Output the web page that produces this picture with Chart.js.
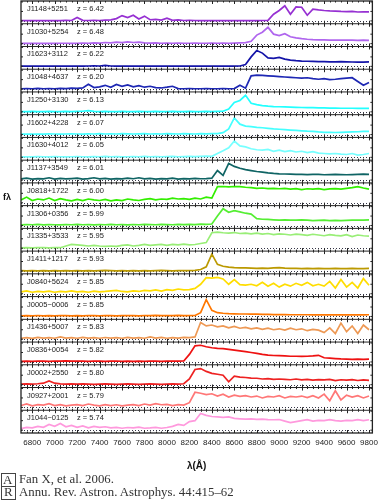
<!DOCTYPE html>
<html>
<head>
<meta charset="utf-8">
<script src="https://cdn.jsdelivr.net/npm/chart.js@4/dist/chart.umd.min.js"></script>
<style>
  body { margin: 0; background: #fff; }
  #wrap { position: relative; width: 383px; height: 500px; overflow: hidden; }
  #flab { position: absolute; left: 3px; top: 192px; font: bold 9px "Liberation Sans", Arial, sans-serif; color: #111; }
  #logo { position: absolute; left: 1px; top: 473px; width: 13px; height: 25px; border: 1px solid #444; font: 13px "Liberation Serif", serif; color: #333; }
  #logo .a { position: absolute; left: 1px; top: -2px; }
  #logo .r { position: absolute; left: 2px; top: 10px; }
  #logo .bar { position: absolute; left: 0; top: 12px; width: 13px; border-top: 1px solid #444; }
  #cite { position: absolute; left: 19px; top: 473px; font: 12.8px "Liberation Serif", serif; line-height: 13px; color: #333; }
</style>
</head>
<body>
<div id="wrap">
  <canvas id="spectra" width="383" height="500"></canvas>
  <div id="flab">fλ</div>
  <div id="logo"><span class="a">A</span><span class="bar"></span><span class="r">R</span></div>
  <div id="cite">Fan X, et al. 2006.<br>Annu. Rev. Astron. Astrophys. 44:415–62</div>
</div>
<script>
// quasar names and redshifts, top panel first
var names = ['J1148+5251','J1030+5254','J1623+3112','J1048+4637','J1250+3130','J1602+4228','J1630+4012',
  'J1137+3549','J0818+1722','J1306+0356','J1335+3533','J1411+1217','J0840+5624','J0005\u22120006',
  'J1436+5007','J0836+0054','J0002+2550','J0927+2001','J1044\u22120125'];
var redshifts = ['6.42','6.48','6.22','6.20','6.13','6.07','6.05','6.01','6.00','5.99','5.95','5.93','5.85','5.85','5.83','5.82','5.80','5.79','5.74'];
var colors = ['#9630d2','#b066ee','#1414a8','#1e28b4','#22ffff','#44ffff','#77ffff','#0f6464','#33ee00','#55ee33',
  '#99ee77','#bb9900','#ffdd00','#ff7700','#ee9955','#ee1111','#ee2222','#ff7777','#ff99dd'];

// wavelength grid (Angstrom), 6700..9800 every 50
var lambda = [6700,6750,6800,6850,6900,6950,7000,7050,7100,7150,7200,7250,7300,7350,7400,7450,7500,7550,7600,7650,
  7700,7750,7800,7850,7900,7950,8000,8050,8100,8150,8200,8250,8300,8350,8400,8450,8500,8550,8600,8650,
  8700,8750,8800,8850,8900,8950,9000,9050,9100,9150,9200,9250,9300,9350,9400,9450,9500,9550,9600,9650,
  9700,9750,9800];
var xTicks = [6800,7000,7200,7400,7600,7800,8000,8200,8400,8600,8800,9000,9200,9400,9600,9800];

// normalised flux per quasar
var fJ1148 = [0.02,0.01,0.02,0.01,0.02,0.01,0.02,0.01,0.03,0.02, 0.18,0.03,0.02,0.03,0.02,0.04,0.05,0.12,0.28,0.18,
  0.30,0.10,0.25,0.06,0.08,0.04,0.14,0.03,0.05,0.02, 0.03,0.02,0.01,0.02,0.01,0.02,0.01,0.02,0.01,0.02,
  0.01,0.02,0.01,0.02,0.03,0.35,0.55,0.80,0.35,0.74, 0.72,0.30,0.62,0.58,0.55,0.53,0.52,0.50,0.49,0.50, 0.47,0.48,0.48];
var fJ1030 = [0.01,0.02,0.01,0.02,0.01,0.02,0.01,0.02,0.02,0.01, 0.02,0.03,0.02,0.04,0.03,0.06,0.04,0.08,0.05,0.09,
  0.06,0.08,0.04,0.03,0.04,0.02,0.03,0.02,0.03,0.02, 0.02,0.03,0.02,0.02,0.03,0.02,0.03,0.02,0.03,0.04,
  0.05,0.12,0.45,0.60,0.86,0.50,0.42,0.52,0.36,0.30, 0.26,0.23,0.21,0.20,0.20,0.19,0.19,0.18,0.18,0.18, 0.17,0.18,0.17];
var fJ1623 = [0.01,0.01,0.02,0.01,0.01,0.02,0.01,0.02,0.01,0.01, 0.02,0.01,0.02,0.03,0.02,0.05,0.02,0.01,0.02,0.01,
  0.01,0.02,0.01,0.01,0.02,0.01,0.01,0.02,0.01,0.01, 0.01,0.02,0.01,0.01,0.02,0.01,0.01,0.02,0.01,0.02,
  0.10,0.50,0.84,0.70,0.45,0.42,0.47,0.38,0.33,0.30, 0.28,0.27,0.26,0.25,0.25,0.24,0.24,0.25,0.24,0.23, 0.22,0.22,0.24];
var fJ1048 = [0.02,0.03,0.02,0.04,0.02,0.03,0.02,0.04,0.03,0.05, 0.04,0.06,0.25,0.08,0.12,0.20,0.10,0.25,0.15,0.22,
  0.12,0.18,0.10,0.15,0.08,0.06,0.10,0.15,0.03,0.02, 0.03,0.02,0.02,0.03,0.02,0.02,0.03,0.02,0.03,0.20,
  0.05,0.70,0.74,0.72,0.70,0.68,0.66,0.64,0.62,0.60, 0.58,0.60,0.55,0.52,0.55,0.50,0.52,0.55,0.58,0.60, 0.40,0.20,0.35];
var fJ1250 = [0.01,0.01,0.02,0.01,0.01,0.02,0.01,0.01,0.02,0.01, 0.02,0.03,0.06,0.02,0.01,0.02,0.01,0.01,0.02,0.01,
  0.01,0.02,0.01,0.01,0.02,0.01,0.01,0.02,0.01,0.01, 0.02,0.01,0.01,0.02,0.01,0.02,0.03,0.15,0.50,0.60,
  0.87,0.45,0.38,0.33,0.30,0.28,0.27,0.26,0.25,0.24, 0.23,0.22,0.22,0.21,0.21,0.20,0.20,0.19,0.19,0.19, 0.18,0.18,0.18];
var fJ1602 = [0.02,0.03,0.02,0.03,0.02,0.04,0.03,0.02,0.03,0.04, 0.03,0.02,0.04,0.03,0.05,0.03,0.04,0.03,0.05,0.04,
  0.03,0.04,0.05,0.03,0.04,0.03,0.05,0.04,0.03,0.05, 0.04,0.03,0.05,0.04,0.05,0.05,0.10,0.30,0.88,0.55,
  0.45,0.42,0.38,0.36,0.33,0.30,0.28,0.26,0.24,0.22, 0.20,0.18,0.17,0.14,0.12,0.12,0.11,0.12,0.13,0.14, 0.15,0.17,0.17];
var fJ1630 = [0.02,0.03,0.02,0.04,0.03,0.02,0.04,0.03,0.02,0.03, 0.04,0.03,0.02,0.04,0.03,0.05,0.03,0.04,0.02,0.03,
  0.04,0.03,0.05,0.03,0.04,0.03,0.04,0.05,0.03,0.04, 0.05,0.04,0.05,0.06,0.05,0.20,0.35,0.50,0.86,0.60,
  0.55,0.45,0.40,0.38,0.42,0.32,0.38,0.30,0.35,0.28, 0.32,0.25,0.30,0.22,0.20,0.18,0.20,0.17,0.15,0.20, 0.12,0.15,0.20];
var fJ1137 = [0.06,0.10,0.05,0.08,0.06,0.12,0.05,0.09,0.06,0.08, 0.10,0.05,0.08,0.12,0.06,0.09,0.05,0.08,0.06,0.10,
  0.07,0.12,0.06,0.09,0.05,0.08,0.06,0.10,0.05,0.08, 0.06,0.09,0.07,0.08,0.10,0.50,0.25,0.88,0.72,0.62,
  0.55,0.50,0.45,0.42,0.38,0.35,0.33,0.32,0.31,0.30, 0.30,0.29,0.30,0.30,0.28,0.29,0.30,0.29,0.28,0.29, 0.30,0.31,0.30];
var fJ0818 = [0.15,0.30,0.12,0.20,0.15,0.25,0.12,0.22,0.15,0.10, 0.18,0.12,0.20,0.15,0.12,0.18,0.10,0.15,0.12,0.20,
  0.15,0.12,0.18,0.22,0.15,0.20,0.18,0.25,0.20,0.22, 0.18,0.25,0.20,0.30,0.25,0.85,0.86,0.84,0.86,0.85,
  0.82,0.80,0.76,0.78,0.75,0.76,0.74,0.76,0.72,0.75, 0.70,0.74,0.72,0.75,0.70,0.73,0.75,0.72,0.76,0.80, 0.85,0.78,0.72];
var fJ1306 = [0.03,0.05,0.04,0.06,0.03,0.05,0.04,0.03,0.05,0.04, 0.06,0.04,0.05,0.03,0.05,0.04,0.06,0.04,0.05,0.03,
  0.05,0.04,0.06,0.05,0.04,0.06,0.05,0.04,0.06,0.05, 0.06,0.05,0.07,0.06,0.08,0.50,0.89,0.70,0.78,0.72,
  0.65,0.60,0.36,0.33,0.32,0.30,0.28,0.30,0.29,0.28, 0.30,0.28,0.26,0.27,0.28,0.26,0.27,0.26,0.27,0.28, 0.28,0.29,0.30];
var fJ1335 = [0.02,0.03,0.02,0.04,0.03,0.02,0.04,0.03,0.12,0.20, 0.18,0.15,0.12,0.15,0.12,0.10,0.12,0.10,0.15,0.18,
  0.12,0.15,0.20,0.15,0.18,0.20,0.15,0.20,0.18,0.22, 0.18,0.20,0.25,0.30,0.82,0.85,0.82,0.80,0.83,0.78,
  0.80,0.76,0.80,0.75,0.78,0.72,0.76,0.74,0.70,0.75, 0.72,0.68,0.74,0.70,0.66,0.72,0.68,0.65,0.72,0.62, 0.70,0.66,0.64];
var fJ1411 = [0.02,0.01,0.02,0.01,0.02,0.01,0.02,0.01,0.02,0.01, 0.02,0.01,0.02,0.01,0.02,0.03,0.02,0.01,0.02,0.01,
  0.02,0.01,0.02,0.01,0.02,0.03,0.02,0.01,0.02,0.02, 0.02,0.03,0.08,0.22,0.89,0.35,0.25,0.20,0.18,0.17,
  0.16,0.15,0.14,0.15,0.14,0.16,0.18,0.15,0.14,0.14, 0.13,0.14,0.13,0.14,0.13,0.13,0.14,0.13,0.13,0.14, 0.13,0.13,0.14];
var fJ0840 = [0.10,0.15,0.08,0.12,0.10,0.14,0.08,0.12,0.10,0.15, 0.10,0.12,0.08,0.14,0.10,0.12,0.15,0.18,0.12,0.10,
  0.15,0.12,0.18,0.15,0.20,0.14,0.22,0.18,0.25,0.20, 0.22,0.28,0.50,0.85,0.82,0.86,0.78,0.50,0.75,0.48,
  0.45,0.50,0.42,0.60,0.40,0.55,0.35,0.50,0.40,0.55, 0.45,0.60,0.42,0.50,0.40,0.65,0.30,0.75,0.35,0.60, 0.30,0.80,0.45];
var fJ0005 = [0.03,0.04,0.03,0.05,0.03,0.04,0.03,0.05,0.04,0.03, 0.04,0.03,0.05,0.04,0.03,0.05,0.04,0.03,0.04,0.05,
  0.04,0.03,0.05,0.04,0.06,0.04,0.05,0.04,0.06,0.05, 0.04,0.05,0.20,0.89,0.32,0.20,0.17,0.15,0.14,0.13,
  0.13,0.12,0.12,0.11,0.11,0.10,0.10,0.10,0.09,0.09, 0.09,0.09,0.08,0.09,0.08,0.08,0.09,0.08,0.08,0.08, 0.08,0.08,0.09];
var fJ1436 = [0.05,0.08,0.04,0.10,0.06,0.08,0.05,0.12,0.06,0.08, 0.05,0.10,0.06,0.08,0.05,0.09,0.06,0.08,0.05,0.10,
  0.06,0.08,0.05,0.12,0.06,0.10,0.05,0.08,0.06,0.10, 0.08,0.12,0.88,0.70,0.75,0.65,0.70,0.60,0.68,0.58,
  0.62,0.55,0.60,0.52,0.58,0.50,0.55,0.48,0.58,0.50, 0.55,0.45,0.52,0.48,0.35,0.60,0.30,0.85,0.40,0.70, 0.30,0.75,0.50];
var fJ0836 = [0.03,0.04,0.03,0.05,0.04,0.03,0.05,0.04,0.06,0.04, 0.05,0.04,0.03,0.05,0.04,0.03,0.04,0.05,0.03,0.04,
  0.03,0.04,0.03,0.05,0.04,0.03,0.04,0.05,0.04,0.05, 0.40,0.85,0.88,0.80,0.75,0.72,0.70,0.66,0.62,0.58,
  0.54,0.50,0.45,0.40,0.36,0.34,0.33,0.32,0.30,0.30, 0.29,0.30,0.32,0.35,0.22,0.20,0.18,0.16,0.15,0.14, 0.15,0.14,0.15];
var fJ0002 = [0.03,0.04,0.03,0.05,0.08,0.20,0.08,0.04,0.03,0.04, 0.03,0.04,0.03,0.02,0.03,0.04,0.03,0.02,0.03,0.04,
  0.03,0.02,0.03,0.04,0.03,0.02,0.03,0.04,0.03,0.05, 0.30,0.80,0.85,0.70,0.60,0.55,0.50,0.15,0.45,0.40,
  0.38,0.35,0.34,0.30,0.32,0.28,0.30,0.28,0.26,0.30, 0.25,0.28,0.24,0.27,0.25,0.28,0.22,0.26,0.24,0.27, 0.22,0.25,0.23];
var fJ0927 = [0.10,0.18,0.08,0.15,0.12,0.20,0.10,0.15,0.08,0.12, 0.15,0.10,0.18,0.12,0.08,0.15,0.10,0.14,0.08,0.12,
  0.15,0.10,0.18,0.12,0.20,0.14,0.16,0.10,0.15,0.12, 0.25,0.80,0.75,0.68,0.72,0.60,0.70,0.55,0.65,0.58,
  0.62,0.55,0.60,0.50,0.58,0.55,0.62,0.50,0.58,0.55, 0.60,0.52,0.62,0.50,0.70,0.35,0.88,0.40,0.65,0.55, 0.62,0.50,0.60];
var fJ1044 = [0.08,0.15,0.12,0.20,0.15,0.30,0.20,0.35,0.18,0.25, 0.15,0.22,0.12,0.20,0.15,0.18,0.12,0.15,0.10,0.14,
  0.12,0.16,0.10,0.12,0.15,0.10,0.14,0.20,0.30,0.25, 0.45,0.50,0.88,0.78,0.72,0.70,0.68,0.70,0.62,0.60,
  0.58,0.60,0.57,0.58,0.56,0.55,0.56,0.48,0.40,0.45, 0.50,0.55,0.48,0.52,0.50,0.55,0.50,0.48,0.52,0.50, 0.55,0.50,0.55];

var fluxes = [fJ1148,fJ1030,fJ1623,fJ1048,fJ1250,fJ1602,fJ1630,fJ1137,fJ0818,fJ1306,
  fJ1335,fJ1411,fJ0840,fJ0005,fJ1436,fJ0836,fJ0002,fJ0927,fJ1044];

var datasets = [];
var scales = {
  x: {
    type: 'linear', position: 'bottom', min: 6700, max: 9830,
    afterBuildTicks: function(s) { s.ticks = xTicks.map(function(v) { return {value: v}; }); },
    afterFit: function(s) { s.height = 42; },
    grid: {display: false, drawTicks: false}, border: {display: false},
    ticks: {color: '#222', padding: 5, maxRotation: 0, autoSkip: false,
      font: {size: 8, family: '"Liberation Sans", Arial, sans-serif'},
      callback: function(v) { return String(v); }},
    title: {display: true, text: 'λ(Å)', color: '#111', padding: {top: 0, bottom: 3},
      font: {size: 10, weight: 'bold', family: '"Liberation Sans", Arial, sans-serif'}}
  }
};

for (var i = 0; i < fluxes.length; i++) {
  // one stacked y axis per quasar, top panel first
  scales['y' + i] = {type: 'linear', position: 'right', stack: 'spec', stackWeight: 1,
    min: -0.15, max: 1.05, display: false};
  datasets.push({
    label: names[i],
    data: lambda.map(function(l, k) { return {x: l, y: fluxes[i][k]}; }),
    yAxisID: 'y' + i,
    borderColor: colors[i],
    borderWidth: 1.7,
    pointRadius: 0,
    tension: 0
  });
}

var panelPlugin = {
  id: 'panels',
  beforeDatasetsDraw: function(chart) {
    var ctx = chart.ctx, a = chart.chartArea;
    ctx.save();
    ctx.strokeStyle = '#334';
    ctx.lineWidth = 1;
    ctx.setLineDash([1, 2]);
    for (var i = 0; i < names.length; i++) {
      var y0 = Math.round(chart.scales['y' + i].getPixelForValue(0)) + 0.5;
      ctx.beginPath();
      ctx.moveTo(a.left, y0);
      ctx.lineTo(a.right, y0);
      ctx.stroke();
    }
    ctx.restore();
  },
  afterDatasetsDraw: function(chart) {
    var ctx = chart.ctx, a = chart.chartArea, xs = chart.scales.x;
    ctx.save();
    ctx.strokeStyle = '#222';
    ctx.lineWidth = 1;
    for (var i = 0; i < names.length; i++) {
      var ys = chart.scales['y' + i];
      var top = ys.top;
      if (i > 0) {
        ctx.beginPath();
        ctx.moveTo(a.left, top);
        ctx.lineTo(a.right, top);
        ctx.stroke();
      }
      // wavelength ticks on both edges of the panel
      for (var w = 6750; w <= 9800; w += 50) {
        var px = Math.round(xs.getPixelForValue(w)) + 0.5;
        var len = (w % 200 === 0) ? 3 : 1.5;
        ctx.beginPath();
        ctx.moveTo(px, ys.top);
        ctx.lineTo(px, ys.top + len);
        ctx.moveTo(px, ys.bottom);
        ctx.lineTo(px, ys.bottom - len);
        ctx.stroke();
      }
      // flux ticks on left and right edges
      [0, 0.5, 1].forEach(function(v) {
        var py = ys.getPixelForValue(v);
        ctx.beginPath();
        ctx.moveTo(a.left, py); ctx.lineTo(a.left + 2, py);
        ctx.moveTo(a.right, py); ctx.lineTo(a.right - 2, py);
        ctx.stroke();
      });
      ctx.fillStyle = '#222';
      ctx.font = '7.5px "Liberation Sans", Arial, sans-serif';
      ctx.textBaseline = 'alphabetic';
      ctx.fillText(names[i], a.left + 6, top + 10);
      ctx.fillText('z = ' + redshifts[i], a.left + 56, top + 10);
    }
    ctx.lineWidth = 1.3;
    ctx.strokeRect(a.left, a.top, a.right - a.left, a.bottom - a.top);
    ctx.restore();
  }
};

new Chart(document.getElementById('spectra').getContext('2d'), {
  type: 'line',
  data: {datasets: datasets},
  options: {
    responsive: false,
    animation: false,
    devicePixelRatio: 1,
    layout: {padding: {left: 21, right: 9, top: 1, bottom: 25}},
    plugins: {legend: {display: false}, tooltip: {enabled: false}},
    scales: scales
  },
  plugins: [panelPlugin]
});
</script>
</body>
</html>
